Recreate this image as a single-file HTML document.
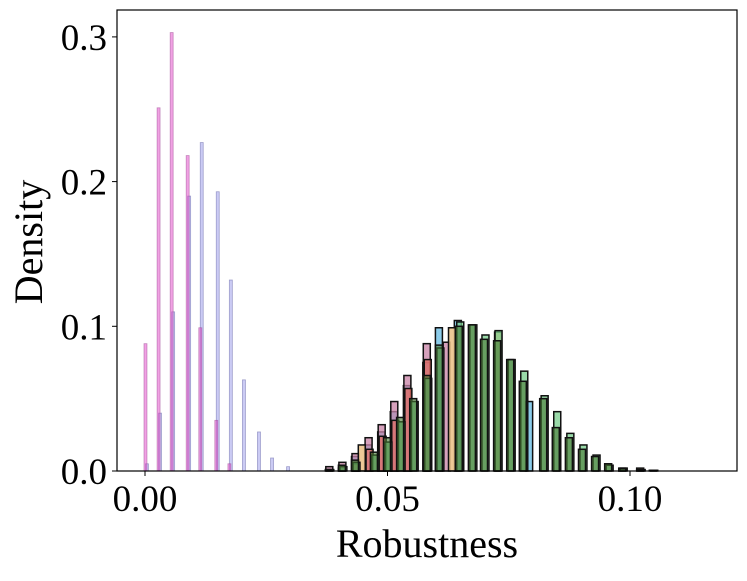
<!DOCTYPE html>
<html><head><meta charset="utf-8"><style>
html,body{margin:0;padding:0;background:#fff;}
svg text{font-family:"Liberation Serif",serif;fill:#000;}
</style></head><body>
<svg id="chart" width="747" height="576" xmlns="http://www.w3.org/2000/svg">
<g id="bars"></g>
<rect x="117" y="10" width="620" height="461" fill="none" stroke="#000" stroke-width="1.2"/>
<g id="axes"></g>
<text x="427" y="557" font-size="40" text-anchor="middle">Robustness</text>
<text transform="translate(42,242) rotate(-90)" font-size="40" text-anchor="middle">Density</text>
</svg>
<script>
const xTicks = [0.00, 0.05, 0.10];
const xTickLabels = ["0.00", "0.05", "0.10"];
const yTicks = [0.0, 0.1, 0.2, 0.3];
const yTickLabels = ["0.0", "0.1", "0.2", "0.3"];

const lowX = [0.0002,0.0029,0.0056,0.0089,0.0115,0.0148,0.0175,0.0202,0.0233,0.026,0.0293];
const lavenderY = [0.005,0.04,0.11,0.19,0.227,0.193,0.132,0.063,0.027,0.009,0.003];
const magentaY = [0.088,0.251,0.303,0.218,0.099,0.035,0.005,0,0,0,0];

const blueX = [0.0406,0.0433,0.046,0.0487,0.0513,0.054,0.058,0.0606,0.0645,0.0792];
const blueY = [0.002,0.01,0.018,0.027,0.041,0.059,0.075,0.099,0.104,0.048];
const roseX = [0.0379,0.0406,0.0433,0.046,0.0487,0.0513,0.054,0.058,0.0621];
const roseY = [0.003,0.006,0.012,0.023,0.032,0.048,0.066,0.088,0.089];
const salmonX = [0.0433,0.046,0.0487,0.0513,0.054,0.058];
const salmonY = [0.005,0.015,0.024,0.035,0.057,0.077];
const tanX = [0.0447,0.0633,0.0728,0.0984,0.1021];
const tanY = [0.018,0.099,0.096,0.002,0.002];
const greenX = [0.0379,0.0406,0.0433,0.0472,0.0499,0.0526,0.0553,0.0581,0.0606,0.0647,0.0674,0.0699,0.0726,0.0753,0.0779,0.0821,0.0847,0.0874,0.0901,0.0928,0.0955,0.0984,0.1021,0.1047];
const lightGreenY = [0.001,0.003,0.006,0.011,0.02,0.034,0.048,0.064,0.085,0.103,0.101,0.094,0.097,0.077,0.069,0.052,0.041,0.026,0.018,0.011,0.004,0.002,0.001,0.0005];
const darkGreenY = [0.001,0.004,0.0075,0.013,0.023,0.037,0.05,0.066,0.087,0.1,0.101,0.091,0.09,0.077,0.062,0.05,0.03,0.023,0.015,0.01,0.005,0.0015,0.001,0.0005];

const NS = "http://www.w3.org/2000/svg";
function xs(v){ return 145 + v * 4850; }
function ys(v){ return 471 - v * 1447; }

const barsG = document.getElementById('bars');
function drawSeries(xArr, yArr, name, fill, stroke, sw, w, dx){
  for (let i = 0; i < xArr.length; i++) {
    if (!(yArr[i] > 0)) continue;
    const r = document.createElementNS(NS, 'rect');
    const cx = xs(xArr[i] + dx);
    const top = ys(yArr[i]);
    r.setAttribute('x', cx - w/2);
    r.setAttribute('y', top);
    r.setAttribute('width', w);
    r.setAttribute('height', 471 - top);
    r.setAttribute('fill', fill);
    r.setAttribute('stroke', stroke);
    r.setAttribute('stroke-width', sw);
    
    
    barsG.appendChild(r);
  }
}
drawSeries(lowX, lavenderY, 'lavender', 'rgba(140,140,230,0.45)', 'rgba(90,90,160,0.5)', 0.8, 3, 0.0002);
drawSeries(lowX, magentaY, 'magenta', 'rgba(225,70,200,0.5)', 'rgba(150,60,140,0.5)', 0.8, 3, -0.0001);
drawSeries(blueX, blueY, 'blue', 'rgba(120,195,230,0.85)', '#111', 1.5, 7, 0);
drawSeries(roseX, roseY, 'rose', 'rgba(200,130,165,0.75)', '#111', 1.5, 7, 0.0001);
drawSeries(salmonX, salmonY, 'salmon', 'rgba(225,110,100,0.75)', '#111', 1.5, 7, 0.0003);
drawSeries(tanX, tanY, 'tan', 'rgba(235,195,140,0.9)', '#111', 1.5, 7, 0);
drawSeries(greenX, lightGreenY, 'light-green', 'rgba(120,205,140,0.75)', '#111', 1.5, 7, 0.0003);
drawSeries(greenX, darkGreenY, 'dark-green', 'rgba(70,120,50,0.6)', '#111', 1.5, 7, 0);

const axesG = document.getElementById('axes');
for (let i = 0; i < xTicks.length; i++) {
  const x = xs(xTicks[i]);
  const l = document.createElementNS(NS, 'line');
  l.setAttribute('x1', x); l.setAttribute('x2', x);
  l.setAttribute('y1', 471); l.setAttribute('y2', 476);
  l.setAttribute('stroke', '#000');
  
  
  axesG.appendChild(l);
  const t = document.createElementNS(NS, 'text');
  t.setAttribute('x', x); t.setAttribute('y', 511);
  t.setAttribute('font-size', '37'); t.setAttribute('text-anchor', 'middle');
  t.textContent = xTickLabels[i];
  
  
  axesG.appendChild(t);
}
for (let i = 0; i < yTicks.length; i++) {
  const y = ys(yTicks[i]);
  const l = document.createElementNS(NS, 'line');
  l.setAttribute('x1', 112); l.setAttribute('x2', 117);
  l.setAttribute('y1', y); l.setAttribute('y2', y);
  l.setAttribute('stroke', '#000');
  
  
  axesG.appendChild(l);
  const t = document.createElementNS(NS, 'text');
  t.setAttribute('x', 107); t.setAttribute('y', y + 13);
  t.setAttribute('font-size', '37'); t.setAttribute('text-anchor', 'end');
  t.textContent = yTickLabels[i];
  
  
  axesG.appendChild(t);
}
</script>
</body></html>
